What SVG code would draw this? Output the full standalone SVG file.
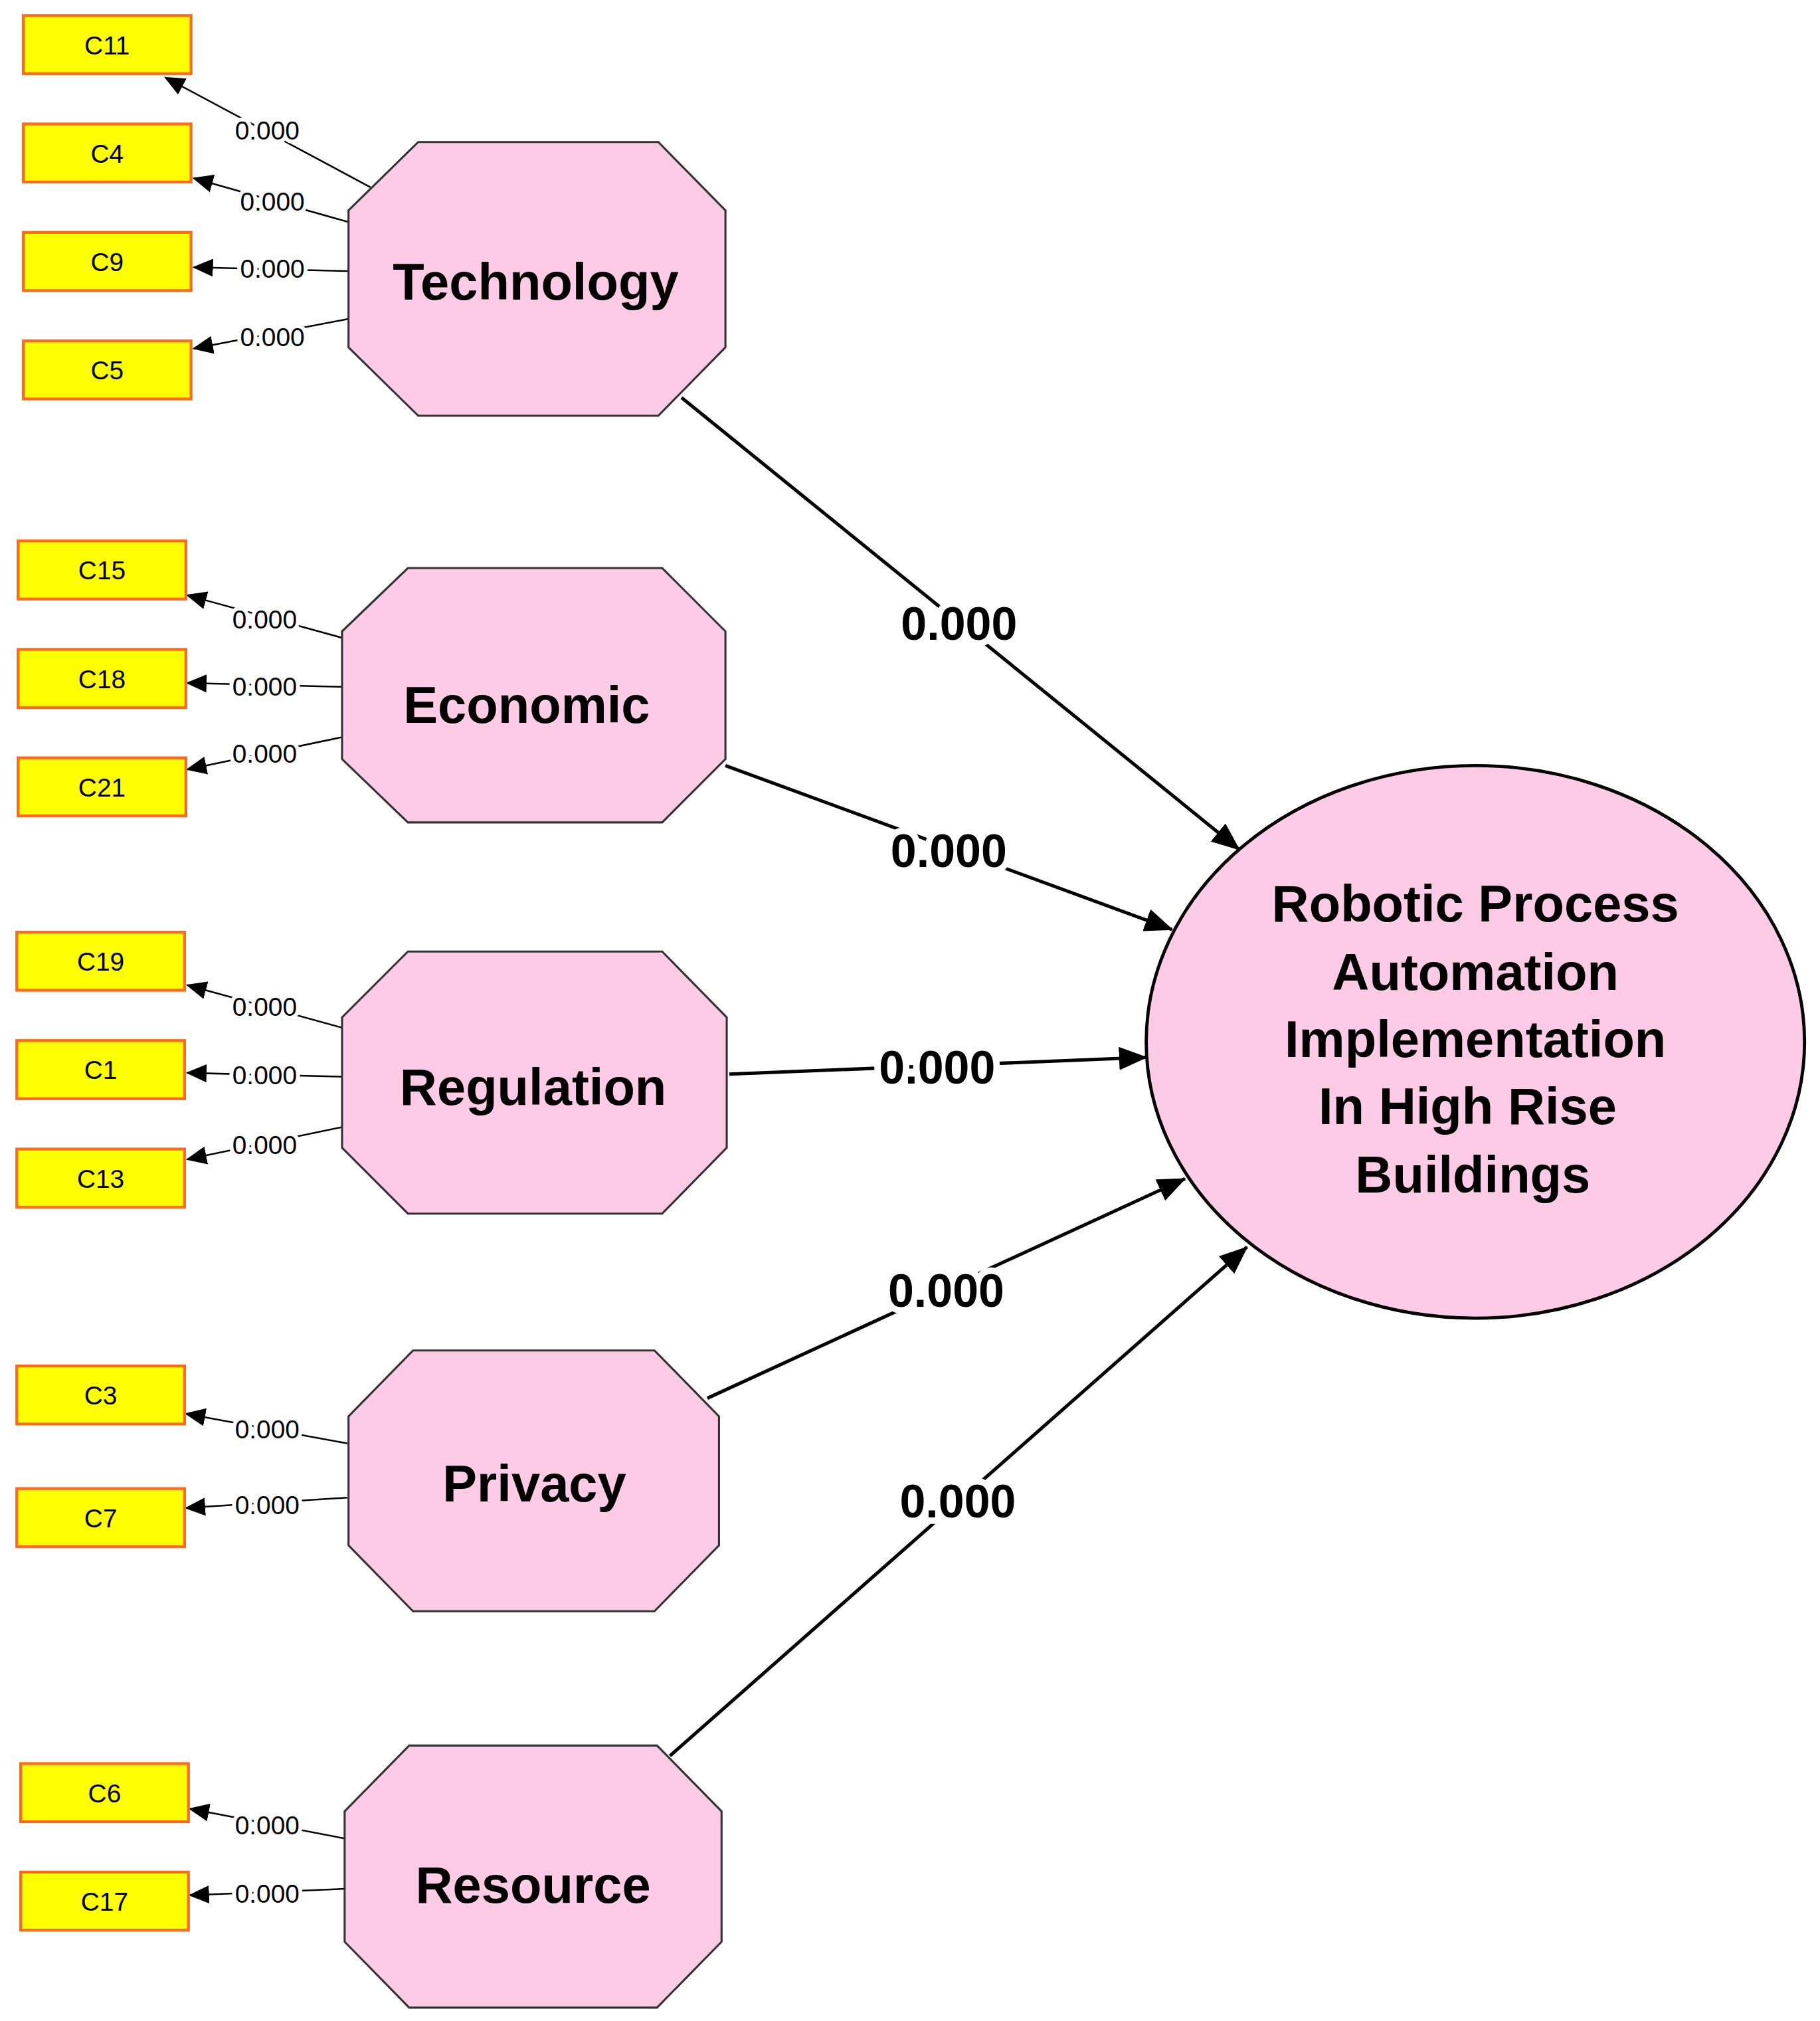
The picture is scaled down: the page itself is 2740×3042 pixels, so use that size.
<svg xmlns="http://www.w3.org/2000/svg" width="2740" height="3042" viewBox="0 0 2740 3042">
<style>
.box{fill:#ffff00;stroke:#ff6a1a;stroke-width:2.2}
.bt{font-family:"Liberation Sans",Arial,sans-serif;font-size:20px;text-anchor:middle;dominant-baseline:central}
.oct{fill:#fecbe6;stroke:#333;stroke-width:1.6}
.ot{font-family:"Liberation Sans",Arial,sans-serif;font-size:40px;font-weight:bold;text-anchor:middle;dominant-baseline:central}
.sl{stroke:#000;stroke-width:1.3;fill:none;marker-end:url(#sa)}
.ml{stroke:#000;stroke-width:2.6;fill:none;marker-end:url(#ma)}
.sx{font-family:"Liberation Sans",Arial,sans-serif;font-size:20px;text-anchor:middle;dominant-baseline:central;fill:#000;stroke:#fff;stroke-width:6;paint-order:stroke}
.mx{font-family:"Liberation Sans",Arial,sans-serif;font-size:36px;font-weight:bold;text-anchor:middle;dominant-baseline:central;fill:#000;stroke:#fff;stroke-width:10;paint-order:stroke}
</style>
<defs>
<marker id="sa" markerUnits="userSpaceOnUse" markerWidth="16" markerHeight="14" refX="15" refY="7" orient="auto"><path d="M0,0 L16,7 L0,14 Z" fill="#000"/></marker>
<marker id="ma" markerUnits="userSpaceOnUse" markerWidth="22" markerHeight="18" refX="21" refY="9" orient="auto"><path d="M0,0 L22,9 L0,18 Z" fill="#000"/></marker>
</defs>
<rect width="2740" height="3042" fill="#fff"/>
<g transform="scale(1.9433)">
<g id="connectors">
<path class="sl" d="M287,145 L128,60"/><text class="sx" x="207" y="101">0.000</text>
<path class="sl" d="M270,172 L150,138"/><text class="sx" x="211" y="156">0.000</text>
<path class="sl" d="M270,210 L150,207"/><text class="sx" x="211" y="208">0.000</text>
<path class="sl" d="M270,247 L150,270"/><text class="sx" x="211" y="261">0.000</text>
<path class="sl" d="M265,494 L145,461"/><text class="sx" x="205" y="480">0.000</text>
<path class="sl" d="M265,532 L145,529"/><text class="sx" x="205" y="532">0.000</text>
<path class="sl" d="M265,571 L145,596"/><text class="sx" x="205" y="584">0.000</text>
<path class="sl" d="M265,796 L145,763"/><text class="sx" x="205" y="780">0.000</text>
<path class="sl" d="M265,834 L145,831"/><text class="sx" x="205" y="833">0.000</text>
<path class="sl" d="M265,873 L145,898"/><text class="sx" x="205" y="887">0.000</text>
<path class="sl" d="M269,1118 L144,1095"/><text class="sx" x="207" y="1107">0.000</text>
<path class="sl" d="M269,1160 L144,1168"/><text class="sx" x="207" y="1166">0.000</text>
<path class="sl" d="M267,1424 L147,1401"/><text class="sx" x="207" y="1414">0.000</text>
<path class="sl" d="M267,1463 L147,1468"/><text class="sx" x="207" y="1467">0.000</text>
<path class="ml" d="M528,308 L960,658"/><text class="mx" x="743" y="483">0.000</text>
<path class="ml" d="M562,593 L908,720"/><text class="mx" x="735" y="659">0.000</text>
<path class="ml" d="M565,832 L888,819"/><text class="mx" x="726" y="827">0.000</text>
<path class="ml" d="M548,1083 L918,913"/><text class="mx" x="733" y="1000">0.000</text>
<path class="ml" d="M519,1360 L966,966"/><text class="mx" x="742" y="1163">0.000</text>
</g>
<g id="C11"><rect class="box" x="18" y="12" width="130" height="45"/><text class="bt" x="83" y="35">C11</text></g>
<g id="C4"><rect class="box" x="18" y="96" width="130" height="45"/><text class="bt" x="83" y="119">C4</text></g>
<g id="C9"><rect class="box" x="18" y="180" width="130" height="45"/><text class="bt" x="83" y="203">C9</text></g>
<g id="C5"><rect class="box" x="18" y="264" width="130" height="45"/><text class="bt" x="83" y="287">C5</text></g>
<g id="C15"><rect class="box" x="14" y="419" width="130" height="45"/><text class="bt" x="79" y="442">C15</text></g>
<g id="C18"><rect class="box" x="14" y="503" width="130" height="45"/><text class="bt" x="79" y="526">C18</text></g>
<g id="C21"><rect class="box" x="14" y="587" width="130" height="45"/><text class="bt" x="79" y="610">C21</text></g>
<g id="C19"><rect class="box" x="13" y="722" width="130" height="45"/><text class="bt" x="78" y="745">C19</text></g>
<g id="C1"><rect class="box" x="13" y="806" width="130" height="45"/><text class="bt" x="78" y="829">C1</text></g>
<g id="C13"><rect class="box" x="13" y="890" width="130" height="45"/><text class="bt" x="78" y="913">C13</text></g>
<g id="C3"><rect class="box" x="13" y="1058" width="130" height="45"/><text class="bt" x="78" y="1081">C3</text></g>
<g id="C7"><rect class="box" x="13" y="1153" width="130" height="45"/><text class="bt" x="78" y="1176">C7</text></g>
<g id="C6"><rect class="box" x="16" y="1366" width="130" height="45"/><text class="bt" x="81" y="1389">C6</text></g>
<g id="C17"><rect class="box" x="16" y="1450" width="130" height="45"/><text class="bt" x="81" y="1473">C17</text></g>
<g id="Technology"><polygon class="oct" points="324,110 510,110 562,163 562,269 510,322 324,322 270,269 270,163"/><text class="ot" x="415" y="218">Technology</text></g>
<g id="Economic"><polygon class="oct" points="316,440 513,440 562,489 562,588 513,637 316,637 265,588 265,489"/><text class="ot" x="408" y="546">Economic</text></g>
<g id="Regulation"><polygon class="oct" points="316,737 513,737 563,788 563,889 513,940 316,940 265,889 265,788"/><text class="ot" x="413" y="842">Regulation</text></g>
<g id="Privacy"><polygon class="oct" points="320,1046 507,1046 557,1097 557,1197 507,1248 320,1248 270,1197 270,1097"/><text class="ot" x="414" y="1149">Privacy</text></g>
<g id="Resource"><polygon class="oct" points="317,1352 509,1352 559,1403 559,1504 509,1555 317,1555 267,1504 267,1403"/><text class="ot" x="413" y="1460">Resource</text></g>
<g id="RPA"><ellipse cx="1143" cy="807" rx="255" ry="214" fill="#fecbe6" stroke="#000" stroke-width="2.5"/>
<text class="ot" x="1143" y="700">Robotic Process</text>
<text class="ot" x="1143" y="753">Automation</text>
<text class="ot" x="1143" y="805">Implementation</text>
<text class="ot" x="1137" y="857">In High Rise</text>
<text class="ot" x="1141" y="910">Buildings</text></g>
</g>
</svg>
